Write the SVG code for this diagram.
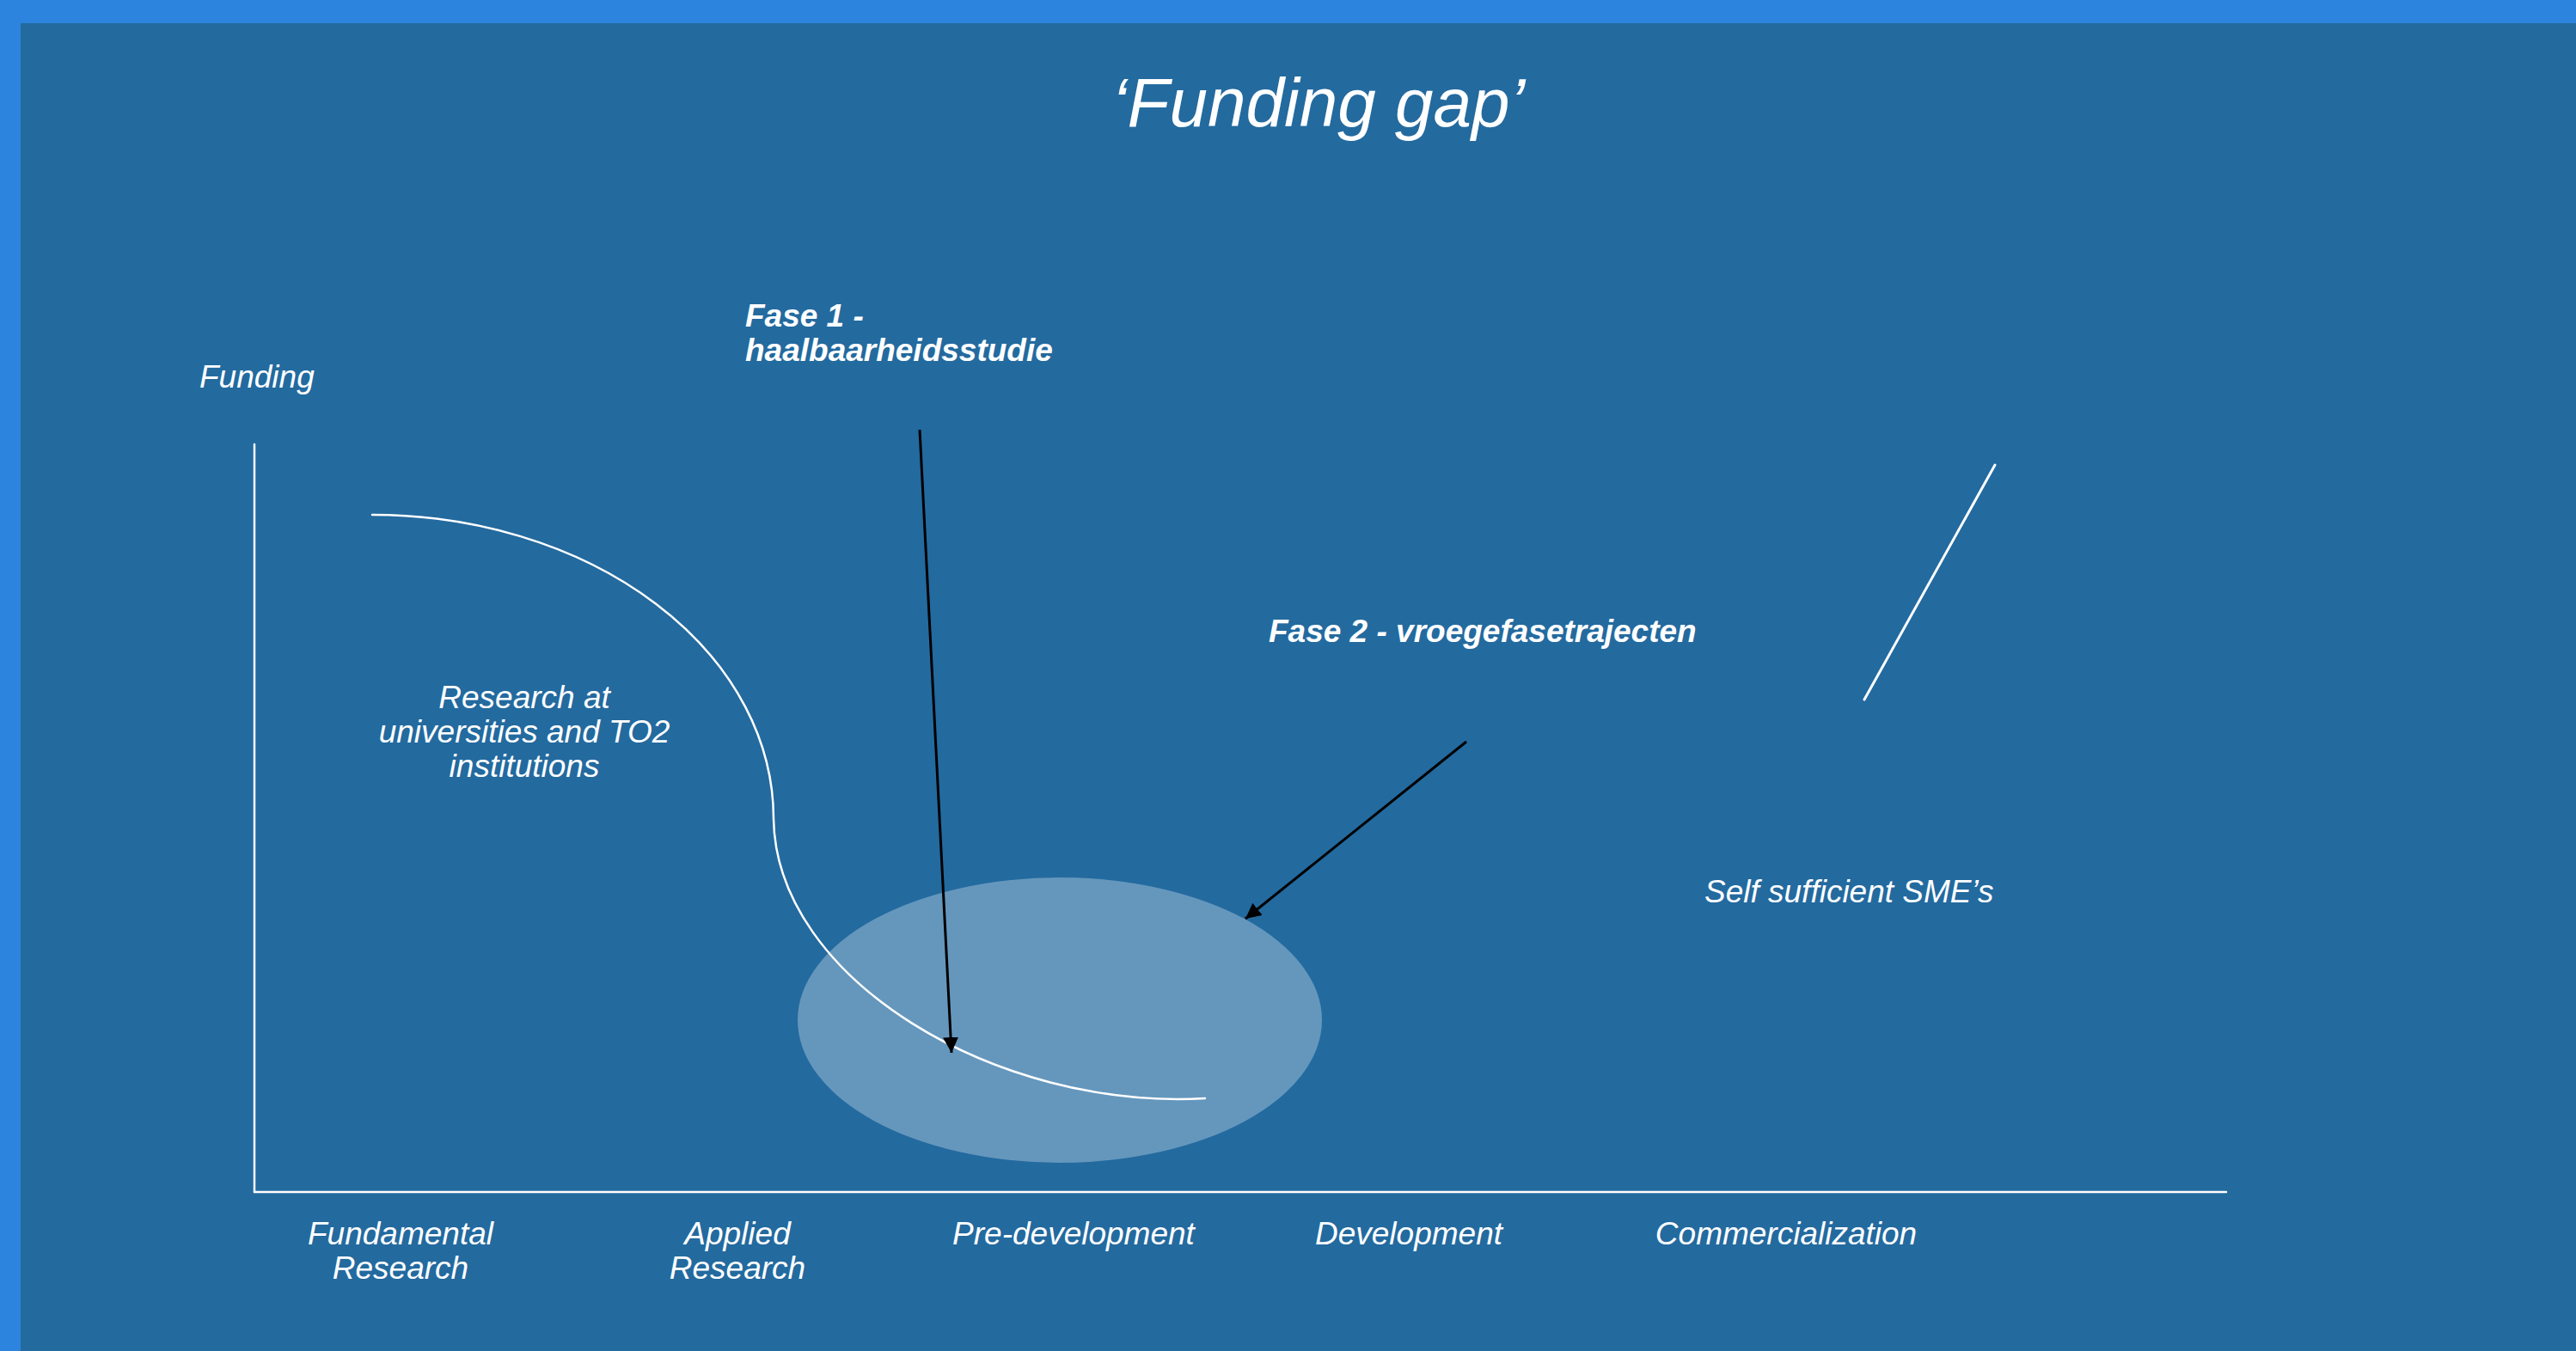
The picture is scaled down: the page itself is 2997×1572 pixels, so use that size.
<svg xmlns="http://www.w3.org/2000/svg" width="2997" height="1572" viewBox="0 0 2997 1572">
  <defs>
    <style>
      .t { font-family: "Liberation Sans", Arial, sans-serif; font-style: italic; fill: #ffffff; font-size: 37px; }
      .b { font-weight: bold; }
      .c { text-anchor: middle; }
      .w { stroke: #ffffff; fill: none; stroke-linecap: round; }
      .k { stroke: #000000; stroke-width: 3; fill: none; }
    </style>
    <marker id="ah" markerUnits="userSpaceOnUse" markerWidth="18" markerHeight="18" viewBox="0 0 16 16" refX="16" refY="8" orient="auto">
      <path d="M0,0 L16,8 L0,16 z" fill="#000000"/>
    </marker>
  </defs>

  <rect x="0" y="0" width="2997" height="1572" fill="#2C84DE"/>
  <rect x="24" y="27" width="2973" height="1545" fill="#236A9F"/>

  <text class="t c" x="1534" y="147" style="font-size:80px">‘Funding gap’</text>

  <g id="axes">
    <line class="w" x1="296" y1="517" x2="296" y2="1387" stroke-width="2.5" stroke-linecap="butt"/>
    <line class="w" x1="296" y1="1387" x2="2590" y2="1387" stroke-width="2.5" stroke-linecap="butt"/>
  </g>

  <g id="gap-ellipse">
    <ellipse cx="1233" cy="1187" rx="305" ry="166" fill="#6597BD"/>
  </g>

  <g id="funding-curve">
    <path class="w" stroke-width="2.5" d="M433,599 A467,354 0 0 1 900,953 C903,1140 1160,1292 1402,1278"/>
  </g>

  <g id="sme-line">
    <line class="w" x1="2321" y1="541" x2="2169" y2="814" stroke-width="3"/>
  </g>

  <g id="connectors">
    <line class="k" x1="1070" y1="500" x2="1107" y2="1225" marker-end="url(#ah)"/>
    <line class="k" x1="1706" y1="863" x2="1449" y2="1069" marker-end="url(#ah)"/>
  </g>

  <g id="label-funding">
    <text class="t" x="232" y="451">Funding</text>
  </g>
  <g id="label-research">
    <text class="t c" x="610" y="824">Research at</text>
    <text class="t c" x="610" y="864">universities and TO2</text>
    <text class="t c" x="610" y="904">institutions</text>
  </g>
  <g id="label-fase1">
    <text class="t b" x="867" y="380">Fase 1 -</text>
    <text class="t b" x="867" y="420">haalbaarheidsstudie</text>
  </g>
  <g id="label-fase2">
    <text class="t b" x="1476" y="747">Fase 2 - vroegefasetrajecten</text>
  </g>
  <g id="label-sme">
    <text class="t" x="1983" y="1050">Self sufficient SME’s</text>
  </g>

  <g id="x-labels">
    <text class="t c" x="466" y="1448">Fundamental</text>
    <text class="t c" x="466" y="1488">Research</text>
    <text class="t c" x="858" y="1448">Applied</text>
    <text class="t c" x="858" y="1488">Research</text>
    <text class="t c" x="1249" y="1448">Pre-development</text>
    <text class="t c" x="1639" y="1448">Development</text>
    <text class="t c" x="2078" y="1448">Commercialization</text>
  </g>
</svg>
